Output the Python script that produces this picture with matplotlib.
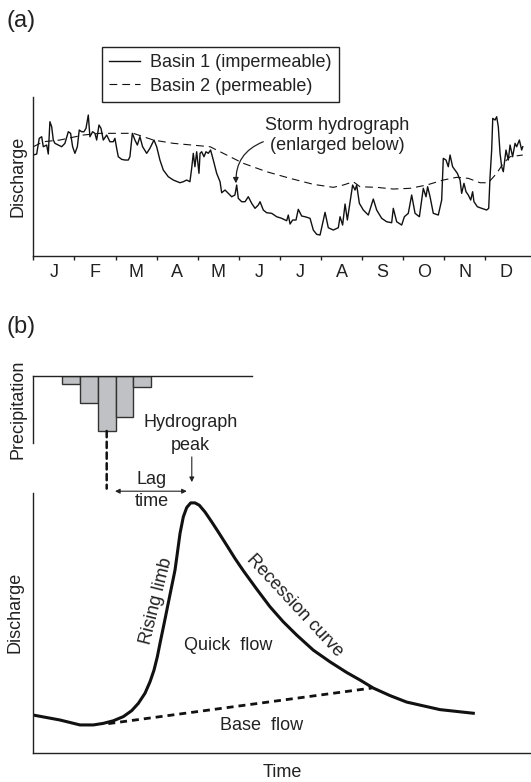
import matplotlib.pyplot as plt
from matplotlib.patches import ConnectionPatch

plt.rcParams['font.family'] = ['Liberation Sans', 'DejaVu Sans']
plt.rcParams['font.size'] = 13

INK = '#222222'

# ---- (a) annual discharge record, day of year vs discharge (arbitrary units)
basin1_day = [0.0, 2.5, 4.4, 6.2, 7.4, 9.9, 11.1, 12.3, 13.6, 14.8, 16.0, 18.5, 21.0, 23.4,
              25.9, 27.6, 29.1, 30.8, 32.6, 34.0, 35.8, 37.5, 39.0, 40.7, 41.9, 43.9, 45.6,
              46.9, 48.6, 50.1, 51.8, 54.3, 56.7, 59.2, 60.4, 61.7, 62.9, 65.4, 67.8, 70.3,
              71.5, 73.3, 75.2, 77.0, 78.9, 80.9, 83.9, 86.3, 89.3, 91.3, 93.7, 96.2, 99.9,
              103.6, 108.5, 111.0, 113.5, 115.9, 117.2, 118.4, 119.6, 120.9, 122.6, 123.4,
              124.6, 126.3, 127.8, 129.5, 131.2, 133.2, 135.7, 138.2, 139.4, 141.9, 144.3,
              146.8, 149.2, 150.5, 151.7, 154.2, 156.7, 159.1, 161.6, 164.1, 166.5, 167.8,
              170.2, 172.7, 176.4, 180.1, 183.8, 187.5, 188.7, 190.0, 191.9, 194.4, 196.1,
              198.6, 201.1, 204.8, 207.2, 209.7, 212.2, 214.1, 215.9, 218.3, 222.0, 225.7,
              227.0, 228.9, 230.7, 232.4, 234.4, 236.3, 238.1, 239.3, 241.3, 244.2, 247.9,
              251.6, 254.1, 257.8, 261.5, 265.2, 266.4, 268.9, 272.6, 274.6, 277.5, 280.0,
              282.5, 285.7, 288.6, 290.6, 291.8, 293.6, 296.0, 299.7, 302.2, 303.4, 305.4,
              307.1, 308.4, 310.3, 312.1, 313.8, 315.8, 317.0, 318.7, 320.2, 321.9, 323.7,
              325.1, 326.1, 328.6, 331.8, 335.5, 337.0, 338.0, 339.2, 340.0, 341.7, 342.9,
              344.1, 345.4, 346.6, 347.8, 349.8, 351.5, 352.8, 354.7, 356.5, 357.7, 359.7,
              361.4, 362.2]
basin1_q = [101, 102, 117.7, 119.3, 109.3, 111, 102, 134.3, 129.3, 116, 112.7, 111, 109.3, 112.7,
            124.3, 122.7, 109.3, 102.7, 109.3, 126, 124.3, 124.3, 127.7, 141, 119.3, 124.3, 122.7,
            116, 131, 127.7, 116, 121, 114.3, 114.3, 117.7, 107.7, 99.3, 96.7, 96, 96,
            99.3, 122.7, 116, 111, 119.3, 109.3, 102.7, 107.7, 116, 109.3, 96, 86, 79.3,
            76, 73.3, 74.3, 76, 74.3, 87.7, 102.7, 89.3, 104.3, 82.7, 102.7,
            104.3, 99.3, 104.3, 102.7, 106, 96, 82.7, 74.3, 63.3, 66, 62.7,
            59.3, 61, 71, 57.7, 54.3, 54.3, 59.3, 52.7, 47.7, 51, 54.3,
            46, 43.3, 42.7, 39.3, 37.7, 35.3, 41, 32, 36, 36, 46.7,
            40, 39.3, 37.7, 26, 21.7, 21, 32.7, 43.7, 28.3, 26, 28.3,
            39.3, 31, 52, 36, 54.3, 71, 66, 71, 52.7, 46, 41,
            57, 46, 37.7, 34.3, 33.3, 47.7, 34.3, 31, 39.3, 42.7, 61,
            42.7, 39.3, 67.7, 59.3, 69.3, 59.3, 42.7, 41, 56, 97.7, 96,
            89.3, 101, 89.3, 86, 82.7, 76, 62.7, 72.7, 64.3, 61, 56,
            64.3, 54.3, 49.3, 47.7, 46, 47.7, 79.3, 106, 137.7, 136, 139.3,
            129.3, 102.7, 89.3, 84.3, 106, 96, 111, 99.3, 112.7, 109.3, 116,
            106, 109.3]
basin2_day = [0, 7.4, 19.7, 37.0, 49.3, 74.0, 88.8, 103.6, 130.8, 143.1, 155.4, 172.7, 190.0,
              207.2, 222.0, 229.4, 236.8, 241.8, 254.1, 266.4, 278.8, 291.1, 303.4, 313.3,
              321.9, 330.6, 336.7, 342.9, 347.8, 352.8, 362.2]
basin2_q = [109.3, 114.3, 116, 121, 122.7, 122.7, 116, 112.7, 109.3, 101, 92.7, 84.3, 77.7,
            71.7, 68.7, 71, 74.3, 69.3, 68.7, 67, 67.7, 71, 76, 78.7,
            77.7, 73.3, 73.3, 82.7, 92.7, 99.3, 101]
months = ['J', 'F', 'M', 'A', 'M', 'J', 'J', 'A', 'S', 'O', 'N', 'D']
storm_day, storm_q = 150.0, 72.7

# ---- (b) storm hydrograph, hours vs discharge (% of axis)
rain_t = [3.79, 5.56, 7.34, 9.12, 10.87]
rain_mm = [1.74, 5.54, 11.06, 8.2, 2.2]
rain_width = 1.77
hydro_t = [0.0, 2.67, 4.67, 6.0, 7.0, 8.0, 9.0, 9.84, 10.5, 11.17, 11.67, 12.07, 12.4, 12.67,
           13.17, 13.67, 14.17, 14.4, 14.67, 15.0, 15.34, 15.74, 16.17, 16.6, 17.17, 17.84,
           18.5, 19.34, 20.17, 21.0, 22.34, 23.67, 25.0, 26.34, 28.0, 29.67, 31.34, 32.67,
           34.0, 35.67, 37.34, 40.67, 44.0]
hydro_q = [14.6, 12.7, 10.8, 10.8, 11.4, 12.4, 14.0, 16.3, 19.1, 23.0, 27.4, 31.9, 37.0, 42.2,
           51.5, 61.0, 70.4, 76.8, 84.5, 90.9, 94.5, 96.3, 96.3, 95.4, 92.8, 89.0,
           85.1, 80.0, 74.9, 70.2, 63.1, 56.3, 50.5, 45.4, 39.6, 35.1, 31.0, 28.1,
           25.0, 22.1, 19.6, 16.7, 15.3]
base_t = [7.5, 33.84]
base_q = [11.3, 25.0]
peak_t = 15.95
lag_start = 8.17

fig = plt.figure(figsize=(5.31, 7.82), dpi=100)

# panel (a)
ax_a = fig.add_axes([0.0627, 0.6726, 0.9373, 0.2037])
l1, = ax_a.plot(basin1_day, basin1_q, color='#111111', lw=1.0, label='Basin 1 (impermeable)')
l2, = ax_a.plot(basin2_day, basin2_q, color='#111111', lw=0.8, linestyle=(0, (7, 4.5)),
                label='Basin 2 (permeable)')
ax_a.set_xlim(0, 368.3)
ax_a.set_ylim(0, 159.3)
ax_a.spines[['top', 'right']].set_visible(False)
for s in ['left', 'bottom']:
    ax_a.spines[s].set_color(INK)
    ax_a.spines[s].set_linewidth(1.0)
month_len = 365 / 12
ax_a.set_xticks([i * month_len for i in range(12)], minor=True)
ax_a.set_xticks([(i + 0.5) * month_len for i in range(12)])
ax_a.set_xticklabels(months)
ax_a.tick_params(axis='x', which='major', length=0, pad=6, colors=INK, labelsize=13)
ax_a.tick_params(axis='x', which='minor', length=3, width=1.0, color=INK)
ax_a.set_yticks([])
ax_a.set_ylabel('Discharge', color=INK, labelpad=5)

leg = fig.legend(handles=[l1, l2], loc='upper left',
                 bbox_to_anchor=(101.7 / 531, 1 - 46.7 / 782),
                 frameon=True, fancybox=False, edgecolor=INK, framealpha=1, borderaxespad=0,
                 handlelength=1.7, handletextpad=0.55, labelspacing=0.35, borderpad=0.42,
                 fontsize=13, labelcolor=INK)
leg.get_frame().set_linewidth(1.0)

ax_a.text(224.7, 120.5, 'Storm hydrograph\n(enlarged below)', ha='center', va='center',
          color=INK, linespacing=1.25)
ax_a.annotate('', xy=(storm_day, storm_q), xytext=(170.2, 114.3),
              arrowprops=dict(arrowstyle='-|>', color=INK, lw=0.9, mutation_scale=8,
                              shrinkA=0, shrinkB=0, connectionstyle='arc3,rad=0.35'))

# panel (b) precipitation
ax_p = fig.add_axes([0.0627, 0.4339, 0.4113, 0.0857])
ax_p.bar(rain_t, rain_mm, width=rain_width, color='#c0c1c4', edgecolor='#333333', lw=1.0)
ax_p.set_xlim(0, 21.84)
ax_p.set_ylim(13.4, 0)
ax_p.spines[['bottom', 'right']].set_visible(False)
for s in ['left', 'top']:
    ax_p.spines[s].set_color(INK)
    ax_p.spines[s].set_linewidth(1.0)
ax_p.set_xticks([])
ax_p.set_yticks([])
ax_p.set_ylabel('Precipitation', color=INK, labelpad=5)

# panel (b) discharge
ax_b = fig.add_axes([0.0627, 0.0371, 0.9373, 0.3321])
ax_b.plot(hydro_t, hydro_q, color='#111111', lw=2.2, solid_joinstyle='round')
ax_b.plot(base_t, base_q, color='#111111', lw=2.0, linestyle=(0, (2.5, 1.8)))
ax_b.set_xlim(0, 49.77)
ax_b.set_ylim(0, 100)
ax_b.spines[['top', 'right']].set_visible(False)
for s in ['left', 'bottom']:
    ax_b.spines[s].set_color(INK)
    ax_b.spines[s].set_linewidth(1.0)
ax_b.set_xticks([])
ax_b.set_yticks([])
ax_b.set_xlabel('Time', color=INK, labelpad=8)
ax_b.set_ylabel('Discharge', color=INK, labelpad=5)
ax_b.yaxis.set_label_coords(-0.019, 0.54)

con = ConnectionPatch(xyA=(rain_t[2], rain_mm[2]), coordsA=ax_p.transData,
                      xyB=(rain_t[2], 101.8), coordsB=ax_b.transData,
                      color='#111111', lw=1.8, linestyle=(0, (2.5, 1.8)))
fig.add_artist(con)

ax_b.annotate('', xy=(lag_start, 100.8), xytext=(peak_t - 0.6, 100.8), annotation_clip=False,
              arrowprops=dict(arrowstyle='<|-|>', color=INK, lw=0.8, mutation_scale=7,
                              shrinkA=0, shrinkB=0))
ax_b.text(11.84, 105.3, 'Lag', ha='center', va='center', color=INK)
ax_b.text(11.84, 96.7, 'time', ha='center', va='center', color=INK)
ax_b.text(15.7, 127.4, 'Hydrograph', ha='center', va='center', color=INK)
ax_b.text(15.7, 118.5, 'peak', ha='center', va='center', color=INK)
ax_b.annotate('', xy=(peak_t - 0.1, 104.3), xytext=(peak_t - 0.1, 114), annotation_clip=False,
              arrowprops=dict(arrowstyle='-|>', color=INK, lw=0.8, mutation_scale=7,
                              shrinkA=0, shrinkB=0))

ax_b.text(12.3, 58.5, 'Rising limb', rotation=76, ha='center', va='center', color=INK,
          rotation_mode='anchor')
ax_b.text(26.1, 56.8, 'Recession curve', rotation=-47, ha='center', va='center', color=INK,
          rotation_mode='anchor')
ax_b.text(19.5, 41.5, 'Quick  flow', ha='center', va='center', color=INK)
ax_b.text(22.84, 10.4, 'Base  flow', ha='center', va='center', color=INK)

fig.text(6 / 531, 1 - 21 / 782, '(a)', fontsize=17, va='center', ha='left', color=INK)
fig.text(6 / 531, 1 - 327.5 / 782, '(b)', fontsize=17, va='center', ha='left', color=INK)

fig.savefig('out.png', dpi=100)
